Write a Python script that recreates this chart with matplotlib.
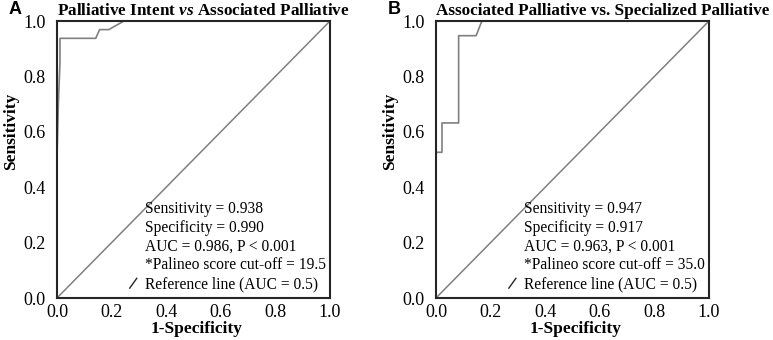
"""ROC curves for the Palineo score, two comparisons side by side."""

import matplotlib

matplotlib.use("Agg")
import matplotlib.pyplot as plt
from matplotlib.legend_handler import HandlerBase
from matplotlib.lines import Line2D

# ROC coordinates (1-specificity, sensitivity)
fpr_a = [0.0, 0.0, 0.005, 0.011, 0.011, 0.142, 0.156, 0.19, 0.245, 1.0]
tpr_a = [0.0, 0.50, 0.70, 0.85, 0.9375, 0.9375, 0.969, 0.969, 1.0, 1.0]

fpr_b = [0.0, 0.0, 0.022, 0.022, 0.083, 0.083, 0.147, 0.168, 1.0]
tpr_b = [0.0, 0.526, 0.526, 0.632, 0.632, 0.947, 0.947, 1.0, 1.0]

ref_x = [0.0, 1.0]
ref_y = [0.0, 1.0]

titles = [
    "Palliative Intent $\\mathbfit{vs}$ Associated Palliative",
    "Associated Palliative vs. Specialized Palliative",
]
panel_tags = ["A", "B"]
stats_a = ["Sensitivity = 0.938", "Specificity = 0.990",
           "AUC = 0.986, P < 0.001", "*Palineo score cut-off = 19.5"]
stats_b = ["Sensitivity = 0.947", "Specificity = 0.917",
           "AUC = 0.963, P < 0.001", "*Palineo score cut-off = 35.0"]
ticks = [0.0, 0.2, 0.4, 0.6, 0.8, 1.0]

plt.rcParams["font.family"] = ["Liberation Serif", "DejaVu Serif"]
plt.rcParams["mathtext.fontset"] = "custom"
plt.rcParams["mathtext.bfit"] = "Liberation Serif:bold:italic"

CURVE = "#808080"
FRAME = "#262626"


class SlashHandler(HandlerBase):
    """Legend handle drawn as a short slash, like the SPSS reference marker."""

    def create_artists(self, legend, orig_handle, xdescent, ydescent,
                       width, height, fontsize, trans):
        line = Line2D([0.2 * width, 0.8 * width], [0.0, 0.9 * height],
                      color=FRAME, linewidth=1.0, transform=trans)
        return [line]


class BlankHandler(HandlerBase):
    def create_artists(self, legend, orig_handle, xdescent, ydescent,
                       width, height, fontsize, trans):
        return [Line2D([0], [0], visible=False, transform=trans)]


def draw_panel(fig, ax, fpr, tpr, title, tag, stats):
    ax.plot(ref_x, ref_y, color=CURVE, linewidth=1.1)
    ax.plot(fpr, tpr, color=CURVE, linewidth=1.2)

    ax.set_xlim(0, 1)
    ax.set_ylim(0, 1)
    ax.set_xticks(ticks)
    ax.set_yticks(ticks)
    ax.set_xticklabels([f"{t:.1f}" for t in ticks])
    ax.set_yticklabels([f"{t:.1f}" for t in ticks])
    ax.tick_params(length=0, labelsize=13)
    ax.tick_params(axis="y", pad=8)
    ax.tick_params(axis="x", pad=4)
    for sp in ax.spines.values():
        sp.set_linewidth(1.5)
        sp.set_color(FRAME)

    ax.set_xlabel("1-Specificity", fontsize=12.5, fontweight="bold")
    ax.xaxis.set_label_coords(0.51, -0.082)
    ax.set_ylabel("Sensitivity", fontsize=12.5, fontweight="bold")
    ax.yaxis.set_label_coords(-0.14, 0.6)
    ax.set_title(title, fontsize=12.3, fontweight="bold", loc="left", pad=4)

    bbox = ax.get_position()
    fig.text(bbox.x0 - 0.063, 0.972, tag, fontsize=13, fontweight="bold",
             family="Liberation Sans", va="center", ha="left")

    blanks = [Line2D([], []) for _ in stats]
    ref = Line2D([], [])
    handler_map = {h: BlankHandler() for h in blanks}
    handler_map[ref] = SlashHandler()
    ax.legend(blanks + [ref], stats + ["Reference line (AUC = 0.5)"],
              handler_map=handler_map, loc="lower right",
              bbox_to_anchor=(0.995, 0.01), fontsize=11.2,
              frameon=False, handlelength=0.75, handletextpad=0.35,
              labelspacing=0.18, borderpad=0.2, borderaxespad=0.0)


fig = plt.figure(figsize=(7.73, 3.40), dpi=100)
ax_a = fig.add_axes([0.0737, 0.1235, 0.3532, 0.8147])
ax_b = fig.add_axes([0.5640, 0.1235, 0.3532, 0.8147])

draw_panel(fig, ax_a, fpr_a, tpr_a, titles[0], panel_tags[0], stats_a)
draw_panel(fig, ax_b, fpr_b, tpr_b, titles[1], panel_tags[1], stats_b)

fig.savefig("out.png", dpi=100)
